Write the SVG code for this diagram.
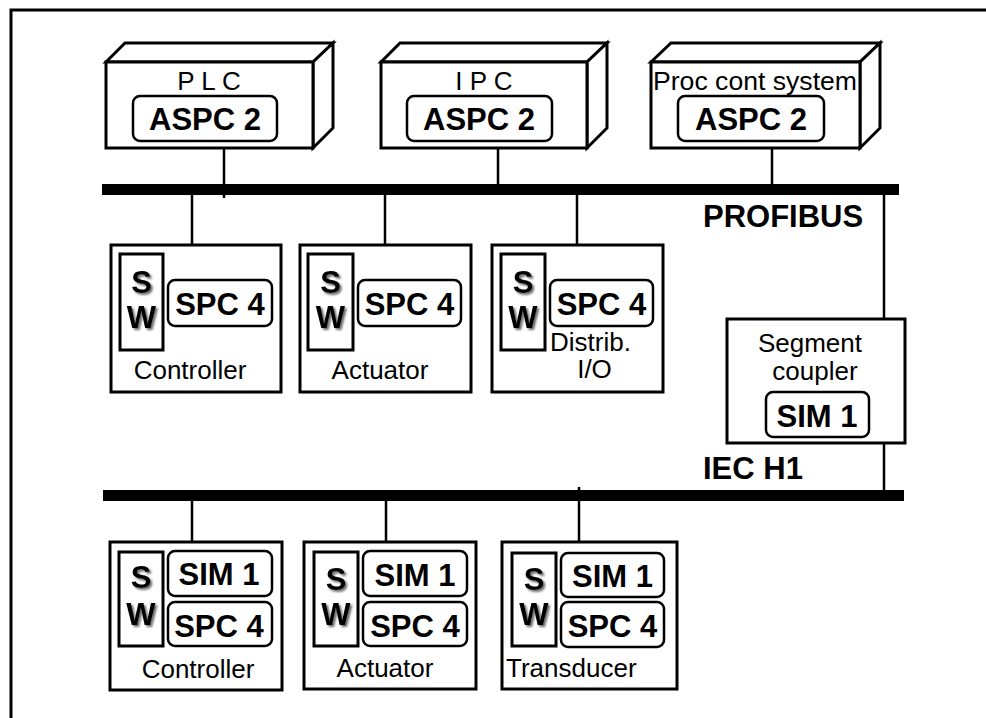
<svg xmlns="http://www.w3.org/2000/svg" width="986" height="718" viewBox="0 0 986 718">
<style>
.frame{fill:none;stroke:#000;stroke-width:3}
.box{fill:#fff;stroke:#000;stroke-width:3;stroke-linejoin:miter}
.chip{fill:#fff;stroke:#000;stroke-width:2.5}
.sw{fill:#fff;stroke:#000;stroke-width:3}
.bus{fill:#000}
.wire{stroke:#000;stroke-width:2.5;fill:none}
.b{font-family:"Liberation Sans",Arial,sans-serif;font-weight:bold;font-size:31px;fill:#000}
.r{font-family:"Liberation Sans",Arial,sans-serif;font-size:26px;fill:#000}
.c{text-anchor:middle}
</style>
<defs>
<filter id="sh" x="-30%" y="-30%" width="160%" height="160%">
<feDropShadow dx="2" dy="2" stdDeviation="1.2" flood-color="#444" flood-opacity="0.8"/>
</filter>
</defs>
<rect width="986" height="718" fill="#fff"/>
<path class="frame" d="M11,720 V10 H990"/>

<g id="connectors">
<rect class="bus" x="102" y="184" width="797" height="11"/>
<rect class="bus" x="103" y="490" width="801" height="11"/>
<line class="wire" x1="224" y1="148" x2="224" y2="198"/>
<line class="wire" x1="498" y1="148" x2="498" y2="190"/>
<line class="wire" x1="772" y1="148" x2="772" y2="190"/>
<line class="wire" x1="192" y1="190" x2="192" y2="245"/>
<line class="wire" x1="385" y1="190" x2="385" y2="245"/>
<line class="wire" x1="577" y1="190" x2="577" y2="245"/>
<line class="wire" x1="884" y1="190" x2="884" y2="319"/>
<line class="wire" x1="884" y1="443" x2="884" y2="495"/>
<line class="wire" x1="192" y1="495" x2="192" y2="542"/>
<line class="wire" x1="386" y1="495" x2="386" y2="542"/>
<line class="wire" x1="579" y1="487" x2="579" y2="542"/>
</g>

<g id="plc">
<path class="box" d="M106,62 L125,43 H333 L313,62 Z"/>
<path class="box" d="M313,62 L333,43 V128 L313,148 Z"/>
<rect class="box" x="106" y="62" width="207" height="86"/>
<text class="r c" x="209" y="90">P L C</text>
<rect class="chip" x="133" y="96" width="144" height="45" rx="7"/>
<text class="b c" x="205" y="130">ASPC 2</text>
</g>

<g id="ipc">
<path class="box" d="M381,62 L400,43 H607 L587,62 Z"/>
<path class="box" d="M587,62 L607,43 V128 L587,148 Z"/>
<rect class="box" x="381" y="62" width="206" height="86"/>
<text class="r c" x="484" y="90">I P C</text>
<rect class="chip" x="407" y="96" width="145" height="45" rx="7"/>
<text class="b c" x="479" y="130">ASPC 2</text>
</g>

<g id="proc">
<path class="box" d="M651,62 L671,43 H880 L860,62 Z"/>
<path class="box" d="M860,62 L880,43 V128 L860,148 Z"/>
<rect class="box" x="651" y="62" width="209" height="86"/>
<text class="r" x="653" y="90" textLength="204" lengthAdjust="spacingAndGlyphs">Proc cont system</text>
<rect class="chip" x="678" y="96" width="146" height="45" rx="7"/>
<text class="b c" x="751" y="130">ASPC 2</text>
</g>

<text id="profibus" class="b" x="703" y="227">PROFIBUS</text>
<text id="iech1" class="b" x="703" y="479">IEC H1</text>

<g id="controller1">
<rect class="box" x="111" y="245" width="170" height="147"/>
<rect class="sw" x="120" y="254" width="43" height="96"/>
<text class="b c" x="141.5" y="293" filter="url(#sh)">S</text>
<text class="b c" x="141.5" y="328" filter="url(#sh)">W</text>
<rect class="chip" x="168" y="280" width="104" height="46" rx="7"/>
<text class="b c" x="220" y="315">SPC 4</text>
<text class="r c" x="190" y="379">Controller</text>
</g>

<g id="actuator1">
<rect class="box" x="300" y="245" width="171" height="147"/>
<rect class="sw" x="308" y="254" width="45" height="96"/>
<text class="b c" x="330.5" y="293" filter="url(#sh)">S</text>
<text class="b c" x="330.5" y="328" filter="url(#sh)">W</text>
<rect class="chip" x="358" y="280" width="103" height="46" rx="7"/>
<text class="b c" x="409.5" y="315">SPC 4</text>
<text class="r c" x="380" y="379">Actuator</text>
</g>

<g id="distrib">
<rect class="box" x="492" y="245" width="171" height="147"/>
<rect class="sw" x="501" y="254" width="44" height="96"/>
<text class="b c" x="523" y="293" filter="url(#sh)">S</text>
<text class="b c" x="523" y="328" filter="url(#sh)">W</text>
<rect class="chip" x="550" y="280" width="103" height="46" rx="7"/>
<text class="b c" x="601.5" y="315">SPC 4</text>
<text class="r" x="550" y="351">Distrib.</text>
<text class="r c" x="594.5" y="378">I/O</text>
</g>

<g id="coupler">
<rect class="box" x="727" y="319" width="178" height="124"/>
<text class="r c" x="810" y="352">Segment</text>
<text class="r c" x="815" y="380">coupler</text>
<rect class="chip" x="766" y="392" width="103" height="45" rx="7"/>
<text class="b c" x="817" y="427">SIM 1</text>
</g>

<g id="controller2">
<rect class="box" x="110" y="542" width="172" height="148"/>
<rect class="sw" x="119" y="552" width="44" height="94"/>
<text class="b c" x="141" y="588" filter="url(#sh)">S</text>
<text class="b c" x="141" y="625" filter="url(#sh)">W</text>
<rect class="chip" x="168" y="551" width="104" height="45" rx="7"/>
<text class="b c" x="219" y="585">SIM 1</text>
<rect class="chip" x="168" y="602" width="104" height="44" rx="7"/>
<text class="b c" x="219" y="637">SPC 4</text>
<text class="r c" x="198" y="678">Controller</text>
</g>

<g id="actuator2">
<rect class="box" x="304" y="542" width="172" height="147"/>
<rect class="sw" x="314" y="552" width="44" height="94"/>
<text class="b c" x="336" y="590" filter="url(#sh)">S</text>
<text class="b c" x="336" y="625" filter="url(#sh)">W</text>
<rect class="chip" x="363" y="551" width="104" height="45" rx="7"/>
<text class="b c" x="415" y="586">SIM 1</text>
<rect class="chip" x="363" y="602" width="104" height="44" rx="7"/>
<text class="b c" x="415" y="637">SPC 4</text>
<text class="r c" x="385" y="677">Actuator</text>
</g>

<g id="transducer">
<rect class="box" x="502" y="542" width="175" height="147"/>
<rect class="sw" x="512" y="553" width="44" height="93"/>
<text class="b c" x="534" y="590" filter="url(#sh)">S</text>
<text class="b c" x="534" y="625" filter="url(#sh)">W</text>
<rect class="chip" x="561" y="553" width="103" height="44" rx="7"/>
<text class="b c" x="612.5" y="587">SIM 1</text>
<rect class="chip" x="561" y="602" width="103" height="45" rx="7"/>
<text class="b c" x="612.5" y="637">SPC 4</text>
<text class="r" x="506" y="677">Transducer</text>
</g>
</svg>
